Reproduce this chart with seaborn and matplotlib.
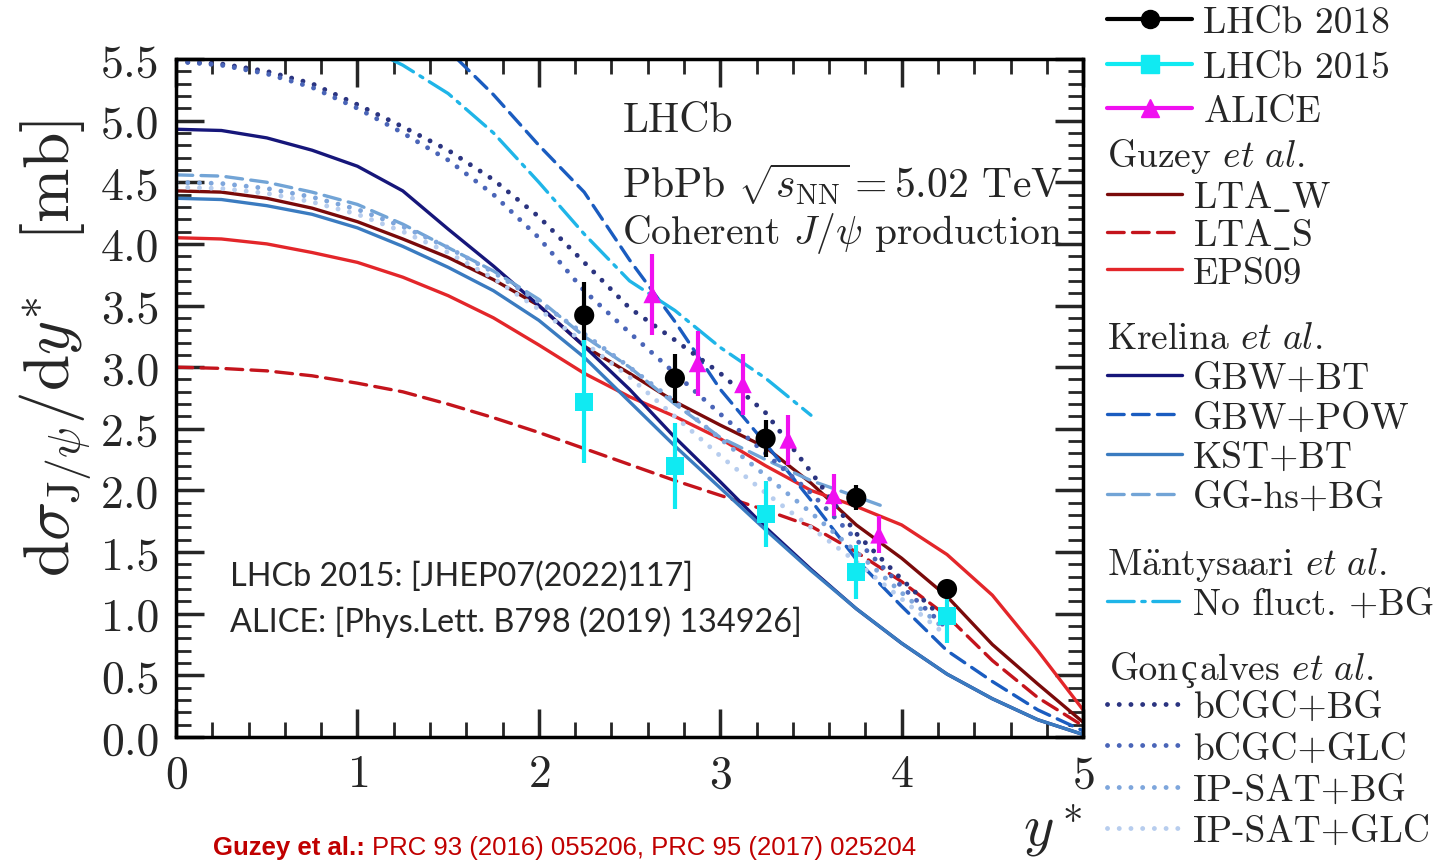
import matplotlib
matplotlib.use('Agg')
import matplotlib.pyplot as plt
import seaborn as sns
from matplotlib.lines import Line2D
from matplotlib.ticker import MultipleLocator, FormatStrFormatter

# rapidity grid used by most of the model curves
y_grid = [0.0, 0.25, 0.5, 0.75, 1.0, 1.25, 1.5, 1.75, 2.0, 2.25, 2.5,
          2.75, 3.0, 3.25, 3.5, 3.75, 4.0, 4.25, 4.5, 4.75, 5.0]

# measurements
lhcb18_y = [2.25, 2.75, 3.25, 3.75, 4.25]
lhcb18_val = [3.42, 2.91, 2.42, 1.94, 1.20]
lhcb18_err = [0.27, 0.20, 0.15, 0.10, 0.07]

lhcb15_y = [2.25, 2.75, 3.25, 3.75, 4.25]
lhcb15_val = [2.72, 2.20, 1.81, 1.34, 0.98]
lhcb15_err = [0.50, 0.35, 0.27, 0.22, 0.22]

alice_y = [2.625, 2.875, 3.125, 3.375, 3.625, 3.875]
alice_val = [3.59, 3.03, 2.86, 2.41, 1.96, 1.64]
alice_err = [0.33, 0.26, 0.25, 0.20, 0.17, 0.15]

# Guzey et al.
lta_w = [4.43, 4.42, 4.37, 4.29, 4.18, 4.04, 3.89, 3.71, 3.50, 3.17, 2.95,
         2.72, 2.53, 2.35, 2.06, 1.72, 1.45, 1.14, 0.75, 0.43, 0.12]
lta_s = [3.00, 2.99, 2.97, 2.93, 2.87, 2.80, 2.70, 2.59, 2.47, 2.34, 2.21,
         2.08, 1.96, 1.84, 1.71, 1.50, 1.26, 0.98, 0.62, 0.32, 0.09]
eps09 = [4.05, 4.04, 4.00, 3.93, 3.85, 3.73, 3.58, 3.40, 3.18, 2.95, 2.76,
         2.60, 2.42, 2.20, 2.00, 1.87, 1.72, 1.48, 1.15, 0.70, 0.22]

# Krelina et al.
gbw_bt = [4.93, 4.92, 4.86, 4.76, 4.63, 4.43, 4.12, 3.82, 3.50, 3.17, 2.82,
          2.43, 2.07, 1.70, 1.36, 1.04, 0.76, 0.51, 0.31, 0.14, 0.02]
kst_bt = [4.37, 4.36, 4.31, 4.24, 4.13, 3.98, 3.81, 3.62, 3.38, 3.08, 2.72,
          2.36, 2.02, 1.68, 1.35, 1.04, 0.76, 0.51, 0.31, 0.14, 0.02]
gbw_pow_y = [1.55, 1.75, 2.0, 2.25, 2.5, 2.75, 3.0, 3.25, 3.5, 3.75, 4.0,
             4.25, 4.5, 4.75, 5.0]
gbw_pow = [5.50, 5.21, 4.80, 4.42, 3.87, 3.37, 2.82, 2.38, 1.92, 1.44, 1.06,
           0.70, 0.45, 0.22, 0.05]
gghs_y = [0.0, 0.25, 0.5, 0.75, 1.0, 1.25, 1.5, 1.75, 2.0, 2.25, 2.5, 2.75,
          3.0, 3.25, 3.5, 3.75, 3.9]
gghs_bg = [4.56, 4.55, 4.50, 4.42, 4.32, 4.16, 3.97, 3.78, 3.55, 3.25, 3.00,
           2.70, 2.43, 2.25, 2.08, 1.95, 1.87]

# Mantysaari et al.
nofl_y = [1.18, 1.25, 1.5, 1.75, 2.0, 2.25, 2.5, 2.75, 3.0, 3.25, 3.5]
nofl_bg = [5.50, 5.45, 5.22, 4.90, 4.50, 4.08, 3.70, 3.46, 3.16, 2.91, 2.61]

# Goncalves et al.
gon_y = [0.0, 0.25, 0.5, 0.75, 1.0, 1.25, 1.5, 1.75, 2.0, 2.25, 2.5, 2.75,
         3.0, 3.25, 3.5, 3.75, 4.0, 4.25]
bcgc_bg = [5.48, 5.46, 5.40, 5.30, 5.13, 4.95, 4.76, 4.52, 4.22, 3.85, 3.48,
           3.22, 2.95, 2.63, 2.15, 1.65, 1.28, 0.93]
bcgc_glc = [5.48, 5.45, 5.38, 5.27, 5.10, 4.90, 4.68, 4.40, 4.05, 3.62, 3.28,
            2.95, 2.62, 2.30, 1.98, 1.60, 1.22, 0.88]
ipsat_bg = [4.50, 4.49, 4.45, 4.38, 4.28, 4.14, 3.97, 3.77, 3.53, 3.27, 3.00,
            2.72, 2.42, 2.12, 1.82, 1.50, 1.17, 0.86]
ipsat_glc = [4.46, 4.45, 4.41, 4.34, 4.24, 4.10, 3.93, 3.72, 3.47, 3.20, 2.92,
             2.60, 2.28, 1.98, 1.70, 1.42, 1.12, 0.82]

sns.set_style('ticks')
plt.rcParams['font.family'] = ['cmr10', 'Liberation Serif']
plt.rcParams['mathtext.fontset'] = 'cm'
plt.rcParams['axes.unicode_minus'] = False
plt.rcParams['axes.formatter.use_mathtext'] = True

fig = plt.figure(figsize=(14.37, 8.62), dpi=100)
ax = fig.add_axes([0.1225, 0.1439, 0.6312, 0.7865])

DOT = (0, (0.01, 2.4))
DASH = (0, (5, 2.5))
DASHDOT = (0, (8, 2.3, 1, 2.3))

# cmr10 has no plain underscore / accented letters, so build them in mathtext
LTA_W = r'LTA$\mathtt{\_}$W'
LTA_S = r'LTA$\mathtt{\_}$S'

# (x, y, colour, style, label)
curves = [
    (y_grid, lta_w, '#7a0a0a', '-', LTA_W),
    (y_grid, lta_s, '#c4141c', DASH, LTA_S),
    (y_grid, eps09, '#e3262a', '-', 'EPS09'),
    (y_grid, gbw_bt, '#16167a', '-', 'GBW+BT'),
    (gbw_pow_y, gbw_pow, '#1a5cc0', DASH, 'GBW+POW'),
    (y_grid, kst_bt, '#3a7bc0', '-', 'KST+BT'),
    (gghs_y, gghs_bg, '#72a4d6', DASH, 'GG-hs+BG'),
    (nofl_y, nofl_bg, '#1fb5e8', DASHDOT, 'No fluct. +BG'),
    (gon_y, bcgc_bg, '#2b3480', DOT, 'bCGC+BG'),
    (gon_y, bcgc_glc, '#4a65b8', DOT, 'bCGC+GLC'),
    (gon_y, ipsat_bg, '#7ea6dc', DOT, 'IP-SAT+BG'),
    (gon_y, ipsat_glc, '#b7cdee', DOT, 'IP-SAT+GLC'),
]

handles = {}
for xs, ys, col, ls, lab in curves:
    lw = 3.5 if ls is DOT else 2.4
    sns.lineplot(x=xs, y=ys, ax=ax, color=col, linestyle=ls, linewidth=lw,
                 sort=False, estimator=None, dash_capstyle='round', zorder=2)
    handles[lab] = Line2D([], [], color=col, linestyle=ls, linewidth=lw,
                          dash_capstyle='round')

# data points with error bars
points = [
    (lhcb18_y, lhcb18_val, lhcb18_err, 'black', 'o', 210, 'LHCb 2018'),
    (lhcb15_y, lhcb15_val, lhcb15_err, '#10eaf2', 's', 170, 'LHCb 2015'),
    (alice_y, alice_val, alice_err, '#f010f0', '^', 160, 'ALICE'),
]
for xs, ys, err, col, mk, size, lab in points:
    ax.errorbar(xs, ys, yerr=err, fmt='none', ecolor=col, elinewidth=3,
                capsize=0, zorder=4)
    sns.scatterplot(x=xs, y=ys, ax=ax, color=col, marker=mk, s=size,
                    edgecolor='none', zorder=5)
    handles[lab] = Line2D([], [], color=col, linewidth=3, marker=mk,
                          markersize=13)

ax.set_xlim(0, 5)
ax.set_ylim(0, 5.5)
ax.xaxis.set_major_locator(MultipleLocator(1))
ax.xaxis.set_minor_locator(MultipleLocator(0.2))
ax.yaxis.set_major_locator(MultipleLocator(0.5))
ax.yaxis.set_minor_locator(MultipleLocator(0.1))
ax.yaxis.set_major_formatter(FormatStrFormatter('%.1f'))
ax.tick_params(which='both', direction='in', top=True, right=True,
               labelsize=33, pad=12)
ax.tick_params(which='major', length=20, width=2.5)
ax.tick_params(which='minor', length=11, width=2)
for sp in ax.spines.values():
    sp.set_linewidth(2.5)
    sp.set_color('black')

ax.set_ylabel(r'$\mathrm{d}\sigma_{\mathrm{J}/\psi}/\mathrm{d}y^{*}\ \,$ [mb]',
              fontsize=47)
ax.yaxis.set_label_coords(-0.092, 0.575)
ax.set_xlabel(r'$y^*$', fontsize=42)
ax.xaxis.set_label_coords(0.966, -0.095)

ax.text(2.46, 5.0, 'LHCb', fontsize=30, va='center')
ax.text(2.46, 4.49, r'PbPb $\sqrt{s_{\mathrm{NN}}} = 5.02$ TeV', fontsize=30,
        va='center')
ax.text(2.46, 4.09, r'Coherent $J/\psi$ production', fontsize=28.5,
        va='center')

ax.text(0.3, 1.31, 'LHCb 2015: [JHEP07(2022)117]', fontsize=23.3,
        family='Lato', va='center')
ax.text(0.3, 0.94, 'ALICE: [Phys.Lett. B798 (2019) 134926]', fontsize=23.3,
        family='Lato', va='center')

fig.text(0.1482, 0.008, 'Guzey et al.:', fontsize=18.5, color='#c00000',
         family='Liberation Sans', weight='bold', va='baseline')
fig.text(0.2589, 0.008, 'PRC 93 (2016) 055206, PRC 95 (2017) 025204',
         fontsize=18.5, color='#c00000', family='Liberation Sans',
         va='baseline')

# legend, split into the groups of the reference
groups = [
    (None, ['LHCb 2018', 'LHCb 2015', 'ALICE'], 7, 2.27, 0.3),
    (r'Guzey $et\ al.$', [LTA_W, LTA_S, 'EPS09'], 137, 2.0, 0.1),
    (r'Krelina $et\ al.$', ['GBW+BT', 'GBW+POW', 'KST+BT', 'GG-hs+BG'],
     323, 2.0, 0.17),
    (r'M$\ddot{\mathrm{a}}$ntysaari $et\ al.$', ['No fluct. +BG'], 546, 2.0,
     0.12),
    (None, ['bCGC+BG', 'bCGC+GLC', 'IP-SAT+BG', 'IP-SAT+GLC'], 692, 2.0,
     0.215),
]
for title, labs, top_px, hlen, lsp in groups:
    fig.legend([handles[l] for l in labs], labs, title=title,
               loc='upper left', bbox_to_anchor=(1107 / 1437, 1 - top_px / 862),
               frameon=False, fontsize=27, title_fontsize=27,
               handlelength=hlen, handletextpad=0.3, labelspacing=lsp,
               borderpad=0, borderaxespad=0, alignment='left')

# the cedilla is missing from cmr10, so this header is set in three pieces
renderer = fig.canvas.get_renderer()
W = fig.bbox.width
base_y = 1 - 680 / 862
x_cur = 1110 / 1437
for piece, fam in [('Gon', None), ('\u00e7', 'Liberation Serif'),
                   (r'alves $et\ al.$', None)]:
    kw = {'family': fam} if fam else {}
    t = fig.text(x_cur, base_y, piece, fontsize=27, va='baseline',
                 ha='left', **kw)
    x_cur = (t.get_window_extent(renderer).x1 + 1.5) / W

fig.savefig('out.png', dpi=100)
